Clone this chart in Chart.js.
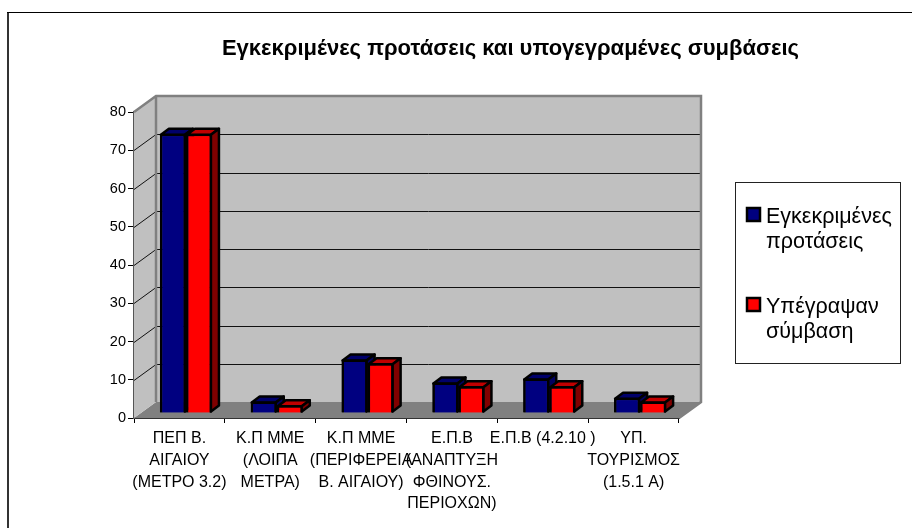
<!DOCTYPE html>
<html lang="el">
<head>
  <meta charset="UTF-8" />
  <title>Εγκεκριμένες προτάσεις και υπογεγραμένες συμβάσεις</title>
  <script src="https://cdn.jsdelivr.net/npm/chart.js"></script>
  <style>
    html, body { margin: 0; padding: 0; background: #fff; }
    canvas { display: block; }
  </style>
</head>
<body>
  <canvas id="chart" width="912" height="528"></canvas>

  <script>
    const titleText = "Εγκεκριμένες προτάσεις και υπογεγραμένες συμβάσεις";
    const categories = [
      ["ΠΕΠ Β.", "ΑΙΓΑΙΟΥ", "(ΜΕΤΡΟ 3.2)"],
      ["Κ.Π ΜΜΕ", "(ΛΟΙΠΑ", "ΜΕΤΡΑ)"],
      ["Κ.Π ΜΜΕ", "(ΠΕΡΙΦΕΡΕΙΑ", "Β. ΑΙΓΑΙΟΥ)"],
      ["Ε.Π.Β", "(ΑΝΑΠΤΥΞΗ", "ΦΘΙΝΟΥΣ.", "ΠΕΡΙΟΧΩΝ)"],
      ["Ε.Π.Β (4.2.10 )"],
      ["ΥΠ.", "ΤΟΥΡΙΣΜΟΣ", "(1.5.1 Α)"]
    ];
    const approved = [73, 3, 14, 8, 9, 4];
    const signed = [73, 2, 13, 7, 7, 3];
    const approvedLegend = ["Εγκεκριμένες", "προτάσεις"];
    const signedLegend = ["Υπέγραψαν", "σύμβαση"];

    const FONT = '"Liberation Sans", Arial, sans-serif';

    // wall depth and bar depth of the fake 3D look
    const WALL_DX = 22, WALL_DY = 16;
    const BAR_SHIFT_X = 6.5, BAR_SHIFT_Y = -5;
    const BAR_DX = 8, BAR_DY = 6;

    function poly(ctx, pts, fill, stroke, lw) {
      ctx.beginPath();
      pts.forEach((p, i) => i ? ctx.lineTo(p[0], p[1]) : ctx.moveTo(p[0], p[1]));
      ctx.closePath();
      if (fill) { ctx.fillStyle = fill; ctx.fill(); }
      if (stroke) { ctx.strokeStyle = stroke; ctx.lineWidth = lw; ctx.stroke(); }
    }

    const walls = {
      id: "walls",
      beforeDraw(chart) {
        const ctx = chart.ctx;
        ctx.save();
        ctx.fillStyle = "#ffffff";
        ctx.fillRect(0, 0, chart.width, chart.height);
        // page frame, only top and left show in the crop
        ctx.fillStyle = "#333333";
        ctx.fillRect(7, 12, 2, chart.height - 12);
        ctx.fillStyle = "#000000";
        ctx.fillRect(7, 12, chart.width - 7, 1);
        ctx.restore();
      },
      beforeDatasetsDraw(chart) {
        const ctx = chart.ctx;
        const { left, right, top, bottom } = chart.chartArea;
        const y = chart.scales.y;
        const dx = WALL_DX, dy = WALL_DY;
        ctx.save();
        ctx.lineJoin = "miter";
        poly(ctx, [[left, bottom], [left + dx, bottom - dy], [right + dx, bottom - dy], [right, bottom]], "#808080");
        poly(ctx, [[left, top], [left + dx, top - dy], [left + dx, bottom - dy], [left, bottom]], "#c0c0c0");
        poly(ctx, [[left + dx, top - dy], [right + dx, top - dy], [right + dx, bottom - dy], [left + dx, bottom - dy]], "#c0c0c0");
        // gridlines run along the side wall and then the back wall
        ctx.strokeStyle = "#111111";
        ctx.lineWidth = 1;
        y.ticks.forEach(t => {
          if (t.value === 0 || t.value === y.max) return;
          const py = Math.round(y.getPixelForValue(t.value)) + 0.5;
          ctx.beginPath();
          ctx.moveTo(left, py);
          ctx.lineTo(left + dx, py - dy);
          ctx.lineTo(right + dx, py - dy);
          ctx.stroke();
        });
        // wall outline
        ctx.strokeStyle = "#808080";
        ctx.lineWidth = 2.5;
        ctx.beginPath();
        ctx.moveTo(left, top);
        ctx.lineTo(left + dx, top - dy);
        ctx.lineTo(right + dx, top - dy);
        ctx.lineTo(right + dx, bottom - dy);
        ctx.lineTo(right, bottom);
        ctx.moveTo(left + dx, top - dy);
        ctx.lineTo(left + dx, bottom - dy);
        ctx.stroke();
        ctx.restore();
        // bars stand a bit inside the floor
        ctx.save();
        ctx.translate(BAR_SHIFT_X, BAR_SHIFT_Y);
      },
      afterDatasetsDraw(chart) {
        const ctx = chart.ctx;
        ctx.lineJoin = "round";
        // redraw left to right so the red front covers the blue side
        chart.data.datasets.forEach((ds, di) => {
          const meta = chart.getDatasetMeta(di);
          meta.data.forEach(bar => {
            const l = bar.x - bar.width / 2 + 1, r = bar.x + bar.width / 2 - 1;
            const t = bar.y + 1, b = bar.base - 1;
            poly(ctx, [[l, t], [l + BAR_DX, t - BAR_DY], [r + BAR_DX, t - BAR_DY], [r, t]], ds.topColor, "#000", 2.5);
            poly(ctx, [[r, t], [r + BAR_DX, t - BAR_DY], [r + BAR_DX, b - BAR_DY], [r, b]], ds.sideColor, "#000", 2.5);
            bar.draw(ctx);
          });
        });
        ctx.restore();
      },
      afterLayout(chart) {
        // title sits over the whole picture incl. legend, not over the plot
        chart.titleBlock.left = 190;
        chart.titleBlock.right = 831;
      }
    };

    const legendBox = {
      id: "legendBox",
      afterDraw(chart) {
        const ctx = chart.ctx;
        ctx.save();
        ctx.fillStyle = "#ffffff";
        ctx.fillRect(735, 182, 166, 181);
        ctx.strokeStyle = "#222222";
        ctx.lineWidth = 1;
        ctx.strokeRect(735.5, 182.5, 165, 181);
        const rows = [[approvedLegend, 207, 217], [signedLegend, 297, 307]];
        chart.data.datasets.forEach((ds, i) => {
          const [lines, boxY, textY] = rows[i];
          ctx.fillStyle = ds.backgroundColor;
          ctx.strokeStyle = "#000";
          ctx.lineWidth = 2.5;
          ctx.fillRect(747, boxY + 1, 13, 13);
          ctx.strokeRect(747, boxY + 1, 13, 13);
          ctx.fillStyle = "#000";
          ctx.font = "21.5px " + FONT;
          ctx.textBaseline = "middle";
          lines.forEach((s, k) => ctx.fillText(s, 766, textY + k * 25.5));
        });
        ctx.restore();
      }
    };

    new Chart(document.getElementById("chart"), {
      type: "bar",
      data: {
        labels: categories,
        datasets: [
          { label: "Εγκεκριμένες προτάσεις", data: approved, backgroundColor: "#000080", topColor: "#00006a", sideColor: "#000060", borderColor: "#000", borderWidth: 2.5, clip: false },
          { label: "Υπέγραψαν σύμβαση", data: signed, backgroundColor: "#ff0000", topColor: "#c00000", sideColor: "#800000", borderColor: "#000", borderWidth: 2.5, clip: false }
        ]
      },
      options: {
        responsive: false,
        animation: false,
        layout: { padding: { left: 100, right: 233, top: 0, bottom: 0 } },
        datasets: { bar: { categoryPercentage: 0.573, barPercentage: 1 } },
        plugins: {
          legend: { display: false },
          tooltip: { enabled: false },
          title: {
            display: true,
            text: titleText,
            color: "#000",
            font: { family: FONT, size: 22, weight: "bold", lineHeight: 1.2 },
            padding: { top: 35.7, bottom: 49.9 }
          }
        },
        scales: {
          x: {
            afterFit: s => { s.height = 110; },
            grid: { offset: true, drawOnChartArea: false, tickLength: 5, color: "#000" },
            border: { color: "#333", width: 2 },
            ticks: {
              autoSkip: false, maxRotation: 0, minRotation: 0, padding: 5,
              color: "#000",
              font: { family: FONT, size: 16, lineHeight: 1.356 }
            }
          },
          y: {
            min: 0,
            max: 80,
            afterFit: s => { s.width = 34; },
            grid: { drawOnChartArea: false, tickLength: 6, color: "#000" },
            border: { color: "#555", width: 2 },
            ticks: {
              stepSize: 10, padding: 2,
              color: "#000",
              font: { family: FONT, size: 14.5 }
            }
          }
        }
      },
      plugins: [walls, legendBox]
    });
  </script>
</body>
</html>
